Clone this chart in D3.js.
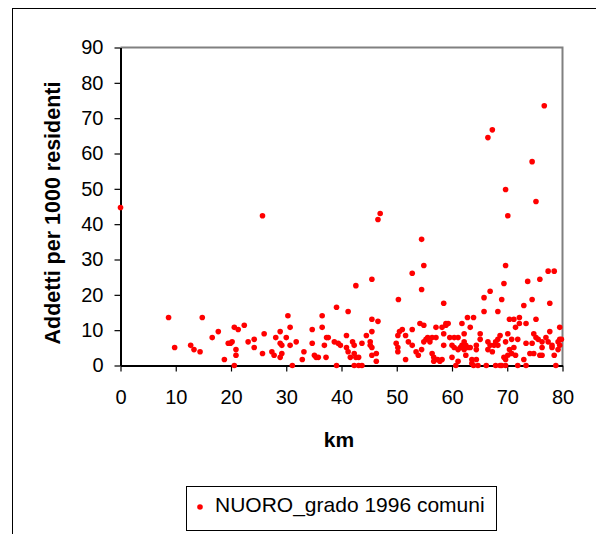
<!DOCTYPE html>
<html>
<head>
<meta charset="utf-8">
<script src="https://cdn.jsdelivr.net/npm/d3@7"></script>
<style>
  body { margin: 0; background: #fff; }
  svg { display: block; font-family: "Liberation Sans", Arial, sans-serif; }
</style>
</head>
<body>
<div id="chart"></div>
<script>
// km from Nuoro
const kmValues = [
  0, 8.7, 9.8, 12.7, 13.3, 14.4, 14.8, 16.6, 17.7, 18.8, 19.5, 19.9, 20.2, 20.6, 20.6, 20.9, 20.9, 21.3, 22.4, 23.1,
  24.2, 24.2, 25.7, 25.7, 26.0, 27.4, 27.8, 28.1, 28.9, 28.9, 28.9, 29.2, 29.2, 30.0, 30.3, 30.7, 30.7, 31.1, 31.8, 32.9,
  33.2, 34.7, 34.7, 35.1, 35.4, 35.8, 36.5, 36.5, 36.9, 37.3, 37.6, 37.2, 38.7, 39.1, 39.1, 39.4, 39.8, 40.9, 40.9, 41.2,
  41.2, 41.6, 42.0, 42.3, 42.3, 42.3, 42.6, 42.6, 43.1, 43.1, 43.7, 43.7, 44.5, 45.2, 45.2, 45.5, 45.5, 45.5, 45.5, 45.5,
  46.3, 46.3, 46.6, 46.6, 47.0, 49.9, 50.2, 50.2, 50.2, 50.3, 50.5, 51.0, 51.6, 51.6, 52.1, 52.8, 52.8, 52.8, 53.5, 53.9,
  54.2, 54.5, 54.5, 54.5, 54.9, 54.9, 54.9, 55.3, 55.6, 56.0, 56.4, 56.4, 56.7, 56.7, 57.1, 57.1, 57.4, 57.8, 58.2, 58.2,
  58.5, 58.5, 58.5, 58.9, 58.9, 59.3, 59.6, 60.0, 60.0, 60.4, 60.4, 60.7, 61.1, 61.1, 61.1, 61.5, 61.8, 61.8, 62.2, 62.2,
  62.2, 62.5, 62.5, 62.8, 62.9, 63.3, 63.3, 63.6, 63.6, 63.9, 63.9, 64.4, 64.4, 64.4, 64.7, 65.1, 65.1, 65.8, 65.8, 66.2,
  66.5, 66.5, 66.5, 66.9, 66.9, 67.3, 67.3, 67.6, 67.9, 67.9, 68.3, 68.3, 68.3, 68.7, 68.7, 69.0, 69.0, 69.4, 69.4, 69.7,
  69.7, 69.7, 69.7, 69.7, 70.1, 70.1, 70.1, 70.4, 70.4, 70.8, 70.8, 71.2, 71.2, 71.5, 71.5, 71.9, 71.9, 72.2, 72.2, 73.0,
  73.0, 73.4, 73.4, 73.4, 73.7, 74.1, 74.5, 74.5, 74.5, 74.8, 74.8, 75.2, 75.2, 75.2, 75.6, 75.9, 75.9, 76.3, 76.3, 76.3,
  76.7, 77.0, 77.4, 77.4, 77.7, 77.7, 78.1, 78.1, 78.5, 78.5, 78.8, 79.2, 79.2, 79.5, 79.5, 79.8, 79.5
];
// addetti per 1000 residenti
const addettiValues = [
  44.7, 13.6, 5.1, 5.7, 4.5, 3.9, 13.6, 7.9, 9.6, 1.7, 6.3, 6.3, 6.7, 10.8, 0, 4.5, 2.9, 10.2, 11.4, 6.7,
  7.4, 5.1, 42.4, 3.4, 9.0, 3.9, 2.9, 7.9, 9.6, 6.3, 2.3, 5.7, 3.4, 7.9, 14.1, 10.8, 5.7, 0, 6.7, 1.7,
  3.9, 10.2, 6.3, 2.9, 2.3, 2.3, 14.1, 10.8, 5.7, 7.9, 7.9, 2.3, 6.7, 16.5, 0, 6.3, 5.7, 8.5, 5.1, 15.3,
  3.9, 2.3, 6.7, 5.7, 3.4, 0, 22.6, 2.3, 2.3, 0, 0, 6.3, 8.5, 6.7, 5.7, 24.4, 13.1, 9.6, 5.1, 2.9,
  3.4, 1.2, 41.3, 12.5, 43.0, 6.3, 8.5, 5.1, 3.9, 18.7, 9.6, 10.2, 8.5, 1.7, 6.7, 26.1, 10.2, 5.7, 3.9, 2.9,
  11.9, 35.7, 21.5, 4.5, 28.3, 11.4, 6.7, 7.4, 7.9, 6.7, 7.9, 3.4, 2.3, 1.2, 10.8, 7.9, 1.7, 1.2, 10.8, 1.7,
  17.6, 9.0, 5.7, 11.9, 11.4, 11.9, 7.9, 5.7, 2.3, 7.9, 5.1, 0, 7.9, 4.5, 1.2, 5.1, 11.9, 5.7, 9.0, 6.7,
  4.5, 5.7, 2.9, 13.6, 5.1, 10.8, 5.1, 1.7, 0.6, 13.6, 0, 5.7, 4.5, 1.7, 0, 7.4, 9.0, 19.2, 15.3, 0,
  64.5, 6.7, 4.5, 21.0, 5.7, 66.7, 3.9, 5.7, 0, 6.7, 7.4, 15.3, 5.7, 8.5, 0, 18.7, 0, 23.2, 2.3, 49.8,
  28.3, 6.7, 1.7, 0, 42.4, 9.0, 2.9, 13.1, 4.5, 7.4, 3.4, 13.1, 5.1, 10.8, 2.9, 7.4, 0, 13.6, 11.9, 17.0,
  1.7, 11.9, 6.3, 0, 23.8, 3.4, 57.7, 18.7, 6.3, 9.0, 3.4, 46.4, 13.1, 7.9, 7.4, 24.4, 2.9, 6.7, 5.1, 2.9,
  73.5, 7.9, 26.7, 6.7, 17.6, 9.6, 5.7, 5.1, 26.7, 2.9, 0, 6.7, 4.5, 10.8, 7.4, 7.4, 5.7
];
const xTicks = [0, 10, 20, 30, 40, 50, 60, 70, 80];
const yTicks = [0, 10, 20, 30, 40, 50, 60, 70, 80, 90];
const seriesName = "NUORO_grado 1996 comuni";

const W = 596, H = 534;
const plotLeft = 120.5, plotRight = 562.5, plotTop = 47.5, plotBottom = 365.5;

const svg = d3.select("#chart").append("svg")
    .attr("width", W)
    .attr("height", H);

// outer chart border (cut off on right/bottom)
svg.append("rect")
    .attr("x", 12.5).attr("y", 8.5)
    .attr("width", 700).attr("height", 700)
    .attr("fill", "none")
    .attr("stroke", "#000")
    .attr("stroke-width", 1);

const x = d3.scaleLinear().domain([0, 80]).range([plotLeft, plotRight]);
const y = d3.scaleLinear().domain([0, 90]).range([plotBottom, plotTop]);

// plot frame (grey top and right)
svg.append("path")
    .attr("d", `M${plotLeft},${plotTop} H${plotRight} V${plotBottom}`)
    .attr("fill", "none")
    .attr("stroke", "#808080")
    .attr("stroke-width", 2);

const xAxis = svg.append("g")
    .attr("transform", `translate(0,${plotBottom})`)
    .call(d3.axisBottom(x).tickValues(xTicks).tickSize(6).tickPadding(18).tickSizeOuter(0));

const yAxis = svg.append("g")
    .attr("transform", `translate(${plotLeft},0)`)
    .call(d3.axisLeft(y).tickValues(yTicks).tickSize(6).tickPadding(11).tickSizeOuter(0));

[xAxis, yAxis].forEach(ax => {
    ax.select(".domain").attr("stroke", "#000").attr("stroke-width", 2);
    ax.selectAll(".tick line").attr("stroke", "#000").attr("stroke-width", 1.2);
    ax.selectAll(".tick text")
        .attr("font-family", "Liberation Sans, Arial, sans-serif")
        .attr("font-size", "20px")
        .attr("fill", "#000");
});

// points
svg.append("g")
    .selectAll("circle")
    .data(kmValues.map((k, i) => [k, addettiValues[i]]))
    .enter().append("circle")
    .attr("cx", d => x(d[0]))
    .attr("cy", d => y(d[1]))
    .attr("r", 2.8)
    .attr("fill", "#ff0000");

// axis titles
svg.append("text")
    .attr("x", 339)
    .attr("y", 447)
    .attr("text-anchor", "middle")
    .attr("font-size", "21px")
    .attr("font-weight", "bold")
    .text("km");

svg.append("text")
    .attr("transform", "translate(60,213) rotate(-90)")
    .attr("text-anchor", "middle")
    .attr("font-size", "21.5px")
    .attr("font-weight", "bold")
    .text("Addetti per 1000 residenti");

// legend
const legend = svg.append("g");
legend.append("rect")
    .attr("x", 186.5).attr("y", 486.5)
    .attr("width", 310).attr("height", 44)
    .attr("fill", "#fff")
    .attr("stroke", "#000")
    .attr("stroke-width", 1);
legend.append("circle")
    .attr("cx", 200).attr("cy", 507)
    .attr("r", 2.8)
    .attr("fill", "#ff0000");
legend.append("text")
    .attr("x", 215).attr("y", 512)
    .attr("font-size", "21px")
    .text(seriesName);
</script>
</body>
</html>
